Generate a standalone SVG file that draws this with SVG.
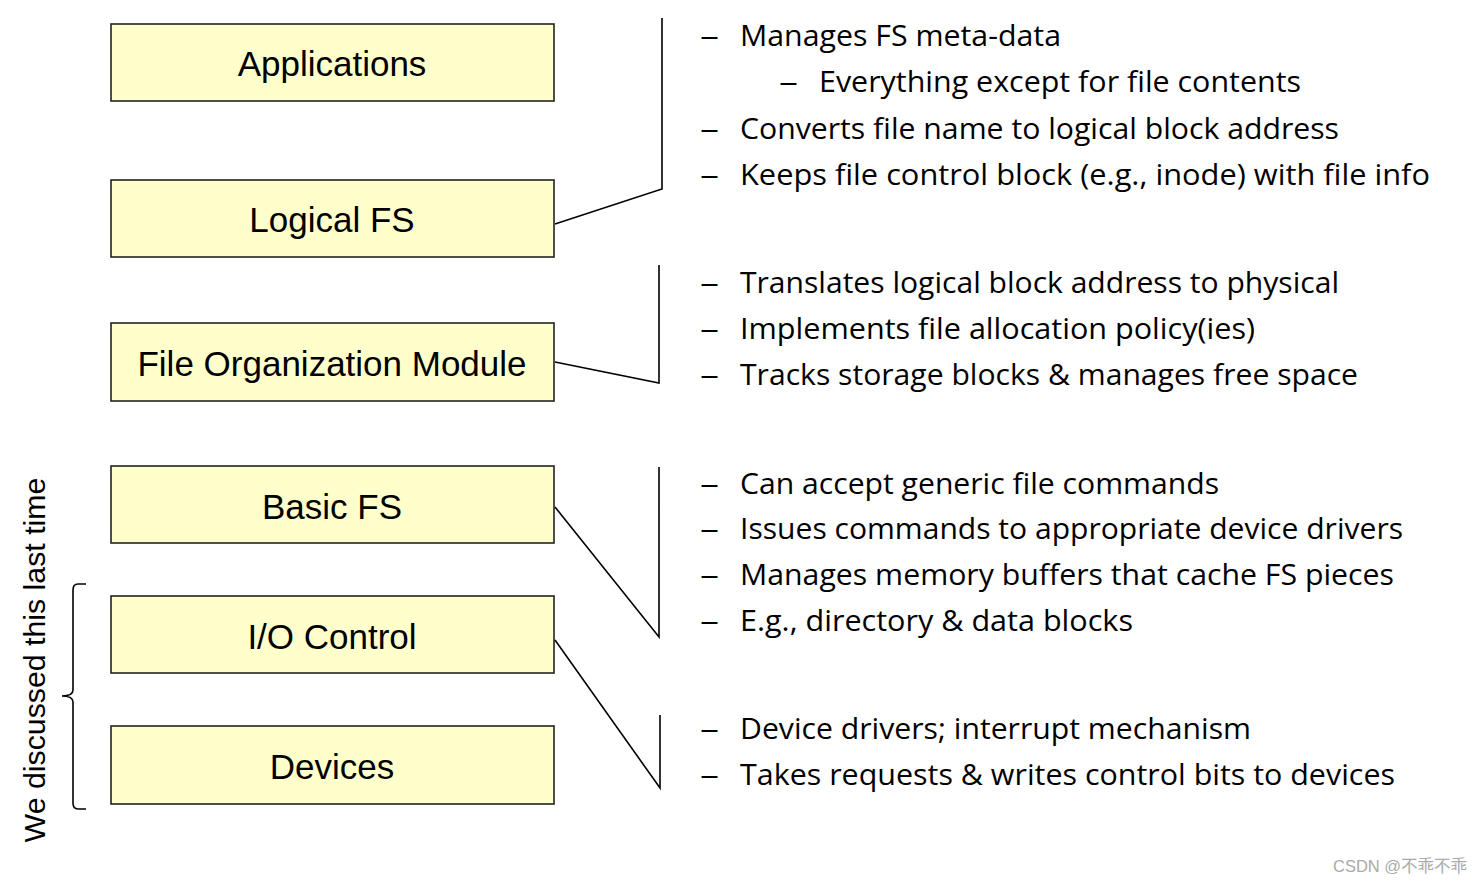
<svg xmlns="http://www.w3.org/2000/svg" width="1484" height="885" viewBox="0 0 1484 885">
<style>
.box{fill:#FFFFCC;stroke:#222;stroke-width:1.6}
.bt{font-family:"Liberation Sans",Arial,sans-serif;font-size:35px;fill:#000;text-anchor:middle}
.d{font-family:"Open Sans","Noto Sans",sans-serif;font-size:30px;fill:#000}
.ds{stroke:#000;stroke-width:2}
.c{fill:none;stroke:#000;stroke-width:1.6}
</style>
<rect width="1484" height="885" fill="#fff"/>
<g id="n-applications"><rect class="box" x="111" y="24" width="443" height="77"/><text class="bt" x="332" y="76">Applications</text></g>
<g id="n-logicalfs"><rect class="box" x="111" y="180" width="443" height="77"/><text class="bt" x="332" y="232">Logical FS</text></g>
<g id="n-fileorg"><rect class="box" x="111" y="323" width="443" height="78"/><text class="bt" x="332" y="376">File Organization Module</text></g>
<g id="n-basicfs"><rect class="box" x="111" y="466" width="443" height="77"/><text class="bt" x="332" y="519">Basic FS</text></g>
<g id="n-iocontrol"><rect class="box" x="111" y="596" width="443" height="77"/><text class="bt" x="332" y="649">I/O Control</text></g>
<g id="n-devices"><rect class="box" x="111" y="726" width="443" height="78"/><text class="bt" x="332" y="779">Devices</text></g>
<g id="connectors">
<polyline class="c" points="555,224 662,189 662,18"/>
<polyline class="c" points="555,362 659,383 659,265"/>
<polyline class="c" points="555,507 659,637 659,467"/>
<polyline class="c" points="555,640 660,788 660,715"/>
<path class="c" d="M86,584 H78 Q73,584 73,590 V690 Q73,696 62,696 Q73,696 73,702 V803 Q73,809 78,809 H86"/>
</g>
<g id="notes">
<text class="d" x="700" y="46" textLength="19" lengthAdjust="spacingAndGlyphs">–</text><text class="d" x="740" y="46" textLength="321" lengthAdjust="spacingAndGlyphs">Manages FS meta-data</text>
<text class="d" x="779" y="92" textLength="19" lengthAdjust="spacingAndGlyphs">–</text><text class="d" x="819" y="92" textLength="482" lengthAdjust="spacingAndGlyphs">Everything except for file contents</text>
<text class="d" x="700" y="139" textLength="19" lengthAdjust="spacingAndGlyphs">–</text><text class="d" x="740" y="139" textLength="599" lengthAdjust="spacingAndGlyphs">Converts file name to logical block address</text>
<text class="d" x="700" y="185" textLength="19" lengthAdjust="spacingAndGlyphs">–</text><text class="d" x="740" y="185" textLength="690" lengthAdjust="spacingAndGlyphs">Keeps file control block (e.g., inode) with file info</text>
<text class="d" x="700" y="293" textLength="19" lengthAdjust="spacingAndGlyphs">–</text><text class="d" x="740" y="293" textLength="599" lengthAdjust="spacingAndGlyphs">Translates logical block address to physical</text>
<text class="d" x="700" y="339" textLength="19" lengthAdjust="spacingAndGlyphs">–</text><text class="d" x="740" y="339" textLength="515" lengthAdjust="spacingAndGlyphs">Implements file allocation policy(ies)</text>
<text class="d" x="700" y="385" textLength="19" lengthAdjust="spacingAndGlyphs">–</text><text class="d" x="740" y="385" textLength="618" lengthAdjust="spacingAndGlyphs">Tracks storage blocks &amp; manages free space</text>
<text class="d" x="700" y="494" textLength="19" lengthAdjust="spacingAndGlyphs">–</text><text class="d" x="740" y="494" textLength="479" lengthAdjust="spacingAndGlyphs">Can accept generic file commands</text>
<text class="d" x="700" y="539" textLength="19" lengthAdjust="spacingAndGlyphs">–</text><text class="d" x="740" y="539" textLength="663" lengthAdjust="spacingAndGlyphs">Issues commands to appropriate device drivers</text>
<text class="d" x="700" y="585" textLength="19" lengthAdjust="spacingAndGlyphs">–</text><text class="d" x="740" y="585" textLength="654" lengthAdjust="spacingAndGlyphs">Manages memory buffers that cache FS pieces</text>
<text class="d" x="700" y="631" textLength="19" lengthAdjust="spacingAndGlyphs">–</text><text class="d" x="740" y="631" textLength="393" lengthAdjust="spacingAndGlyphs">E.g., directory &amp; data blocks</text>
<text class="d" x="700" y="739" textLength="19" lengthAdjust="spacingAndGlyphs">–</text><text class="d" x="740" y="739" textLength="511" lengthAdjust="spacingAndGlyphs">Device drivers; interrupt mechanism</text>
<text class="d" x="700" y="785" textLength="19" lengthAdjust="spacingAndGlyphs">–</text><text class="d" x="740" y="785" textLength="655" lengthAdjust="spacingAndGlyphs">Takes requests &amp; writes control bits to devices</text>
</g>
<text x="0" y="0" transform="translate(45,660) rotate(-90)" text-anchor="middle" font-family="Liberation Sans,Arial,sans-serif" font-size="30.3" fill="#000">We discussed this last time</text>
<text x="1333" y="872" font-family="Liberation Sans,Arial,'Noto Sans CJK SC',sans-serif" font-size="16.5" fill="#aaa">CSDN @不乖不乖</text>
</svg>
